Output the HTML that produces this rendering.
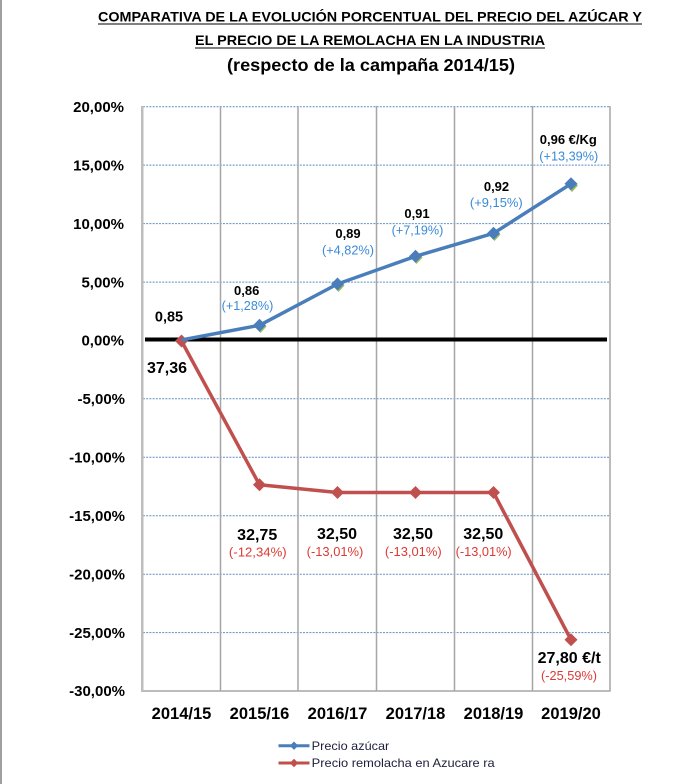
<!DOCTYPE html>
<html>
<head>
<meta charset="utf-8">
<style>
  html,body{margin:0;padding:0;background:#fff;}
  svg{display:block;}
  text{font-family:"Liberation Sans",Arial,sans-serif;}
</style>
</head>
<body>
<svg width="700" height="784" viewBox="0 0 700 784" xmlns="http://www.w3.org/2000/svg">
  <rect x="0" y="0" width="700" height="784" fill="#fff"/>
  <!-- left page border -->
  <rect x="0" y="0" width="2" height="784" fill="#a0a0a0"/>

  <!-- Title -->
  <text x="98" y="21.5" font-size="14" font-weight="bold" fill="#000" textLength="544" lengthAdjust="spacingAndGlyphs">COMPARATIVA DE LA EVOLUCIÓN PORCENTUAL DEL PRECIO DEL AZÚCAR Y</text>
  <line x1="98" y1="24" x2="642" y2="24" stroke="#000" stroke-width="1"/>
  <text x="195" y="45" font-size="14" font-weight="bold" fill="#000" textLength="350" lengthAdjust="spacingAndGlyphs">EL PRECIO DE LA REMOLACHA EN LA INDUSTRIA</text>
  <line x1="195" y1="48" x2="545" y2="48" stroke="#000" stroke-width="1"/>
  <text x="227" y="71" font-size="17.5" font-weight="bold" fill="#000" textLength="288" lengthAdjust="spacingAndGlyphs">(respecto de la campaña 2014/15)</text>

  <!-- Horizontal dotted grid -->
  <g stroke="#4f81bd" stroke-width="1" stroke-dasharray="2 1.2" opacity="0.9">
    <line x1="143" y1="106.7" x2="610" y2="106.7"/>
    <line x1="143" y1="165.1" x2="610" y2="165.1"/>
    <line x1="143" y1="223.6" x2="610" y2="223.6"/>
    <line x1="143" y1="282.1" x2="610" y2="282.1"/>
    <line x1="143" y1="398.8" x2="610" y2="398.8"/>
    <line x1="143" y1="457.3" x2="610" y2="457.3"/>
    <line x1="143" y1="515.7" x2="610" y2="515.7"/>
    <line x1="143" y1="574.2" x2="610" y2="574.2"/>
    <line x1="143" y1="632.6" x2="610" y2="632.6"/>
  </g>

  <!-- Vertical grid lines -->
  <g stroke="#a6a6a6" stroke-width="1.5">
    <line x1="220.5" y1="106" x2="220.5" y2="691"/>
    <line x1="298" y1="106" x2="298" y2="691"/>
    <line x1="376.5" y1="106" x2="376.5" y2="691"/>
    <line x1="454.5" y1="106" x2="454.5" y2="691"/>
    <line x1="532.5" y1="106" x2="532.5" y2="691"/>
    <line x1="610" y1="106" x2="610" y2="691.5"/>
    <line x1="142" y1="691" x2="610.5" y2="691"/>
  </g>
  <rect x="141" y="106" width="2.5" height="586" fill="#bdbdbd"/>

  <!-- Zero line -->
  <line x1="145" y1="339.5" x2="607" y2="339.5" stroke="#000" stroke-width="4"/>

  <!-- Y axis labels -->
  <g font-size="15" font-weight="bold" fill="#000" text-anchor="end">
    <text x="124" y="112">20,00%</text>
    <text x="124" y="170.4">15,00%</text>
    <text x="124" y="228.9">10,00%</text>
    <text x="124" y="287.4">5,00%</text>
    <text x="124" y="345.5">0,00%</text>
    <text x="125" y="404.1">-5,00%</text>
    <text x="125" y="462.6">-10,00%</text>
    <text x="125" y="521">-15,00%</text>
    <text x="125" y="579.5">-20,00%</text>
    <text x="125" y="637.9">-25,00%</text>
    <text x="125" y="696">-30,00%</text>
  </g>

  <!-- Category labels -->
  <g font-size="16.5" font-weight="bold" fill="#000" text-anchor="middle">
    <text x="181.5" y="719">2014/15</text>
    <text x="259.5" y="719">2015/16</text>
    <text x="337.5" y="719">2016/17</text>
    <text x="415.5" y="719">2017/18</text>
    <text x="493.5" y="719">2018/19</text>
    <text x="571" y="719">2019/20</text>
  </g>

  <!-- Red series -->
  <polyline points="181.5,341 259.5,484.8 337.5,492.5 415.5,492.5 493.5,492.5 571,639.8" fill="none" stroke="#c0504d" stroke-width="3.5" stroke-linejoin="round"/>
  <g fill="#c0504d">
    <polygon points="181.5,334.5 188,341 181.5,347.5 175,341"/>
    <polygon points="259.5,478.3 266,484.8 259.5,491.3 253,484.8"/>
    <polygon points="337.5,486 344,492.5 337.5,499 331,492.5"/>
    <polygon points="415.5,486 422,492.5 415.5,499 409,492.5"/>
    <polygon points="493.5,486 500,492.5 493.5,499 487,492.5"/>
    <polygon points="571,633.3 577.5,639.8 571,646.3 564.5,639.8"/>
  </g>

  <!-- Blue series -->
  <g fill="#9bbb59">
    <polygon points="260.5,320 266.5,326.5 260.5,333 254.5,326.5"/>
    <polygon points="338.5,279 344.5,285.5 338.5,292 332.5,285.5"/>
    <polygon points="416.5,251 422.5,257.5 416.5,264 410.5,257.5"/>
    <polygon points="494.5,228 500.5,234.5 494.5,241 488.5,234.5"/>
    <polygon points="572,179 578,185.5 572,192 566,185.5"/>
  </g>
  <polyline points="181.5,340 259.5,325.3 337.5,284 415.5,256.3 493.5,233.3 571,183.8" fill="none" stroke="#4a7ebb" stroke-width="3.5" stroke-linejoin="round"/>
  <g fill="#4a7ebb">
    <polygon points="259.5,318.8 266,325.3 259.5,331.8 253,325.3"/>
    <polygon points="337.5,277.5 344,284 337.5,290.5 331,284"/>
    <polygon points="415.5,249.8 422,256.3 415.5,262.8 409,256.3"/>
    <polygon points="493.5,226.8 500,233.3 493.5,239.8 487,233.3"/>
    <polygon points="571,177.3 577.5,183.8 571,190.3 564.5,183.8"/>
  </g>

  <!-- Blue labels -->
  <g font-weight="bold" fill="#000" text-anchor="middle">
    <text x="169" y="321.5" font-size="14.5">0,85</text>
    <text x="246.7" y="295" font-size="13">0,86</text>
    <text x="348" y="238" font-size="13">0,89</text>
    <text x="417" y="218" font-size="13">0,91</text>
    <text x="496.5" y="191" font-size="13">0,92</text>
    <text x="568.3" y="144" font-size="13">0,96 €/Kg</text>
  </g>
  <g font-size="12.5" fill="#3a8ad8" text-anchor="middle">
    <text x="247.5" y="310" textLength="51.6" lengthAdjust="spacingAndGlyphs">(+1,28%)</text>
    <text x="348" y="254.5" textLength="52" lengthAdjust="spacingAndGlyphs">(+4,82%)</text>
    <text x="417.5" y="234.5" textLength="51.6" lengthAdjust="spacingAndGlyphs">(+7,19%)</text>
    <text x="496.3" y="207" textLength="52.7" lengthAdjust="spacingAndGlyphs">(+9,15%)</text>
    <text x="568.8" y="160.5" textLength="59" lengthAdjust="spacingAndGlyphs">(+13,39%)</text>
  </g>

  <!-- Red labels -->
  <g font-weight="bold" fill="#000" text-anchor="middle" font-size="16">
    <text x="167" y="373">37,36</text>
    <text x="257.2" y="540">32,75</text>
    <text x="337" y="539">32,50</text>
    <text x="413" y="539">32,50</text>
    <text x="483.3" y="539">32,50</text>
    <text x="569.2" y="663">27,80 €/t</text>
  </g>
  <g font-size="12.5" fill="#dc3a35" text-anchor="middle">
    <text x="257.8" y="556.5" textLength="57.7" lengthAdjust="spacingAndGlyphs">(-12,34%)</text>
    <text x="335" y="556" textLength="56.7" lengthAdjust="spacingAndGlyphs">(-13,01%)</text>
    <text x="413.3" y="556" textLength="56.7" lengthAdjust="spacingAndGlyphs">(-13,01%)</text>
    <text x="483.7" y="556" textLength="56" lengthAdjust="spacingAndGlyphs">(-13,01%)</text>
    <text x="569" y="680" textLength="56" lengthAdjust="spacingAndGlyphs">(-25,59%)</text>
  </g>

  <!-- Legend -->
  <line x1="278.5" y1="745.7" x2="309.5" y2="745.7" stroke="#4a7ebb" stroke-width="3"/>
  <polygon points="294,741.5 298.2,745.7 294,749.9 289.8,745.7" fill="#4a7ebb"/>
  <line x1="278.5" y1="763" x2="309.5" y2="763" stroke="#c0504d" stroke-width="3"/>
  <polygon points="294,758.8 298.2,763 294,767.2 289.8,763" fill="#c0504d"/>
  <g font-size="12" fill="#1e1e3c">
    <text x="311.7" y="750" textLength="77.6" lengthAdjust="spacingAndGlyphs">Precio azúcar</text>
    <text x="311.7" y="767" textLength="183" lengthAdjust="spacingAndGlyphs">Precio remolacha en Azucare ra</text>
  </g>
</svg>
</body>
</html>
